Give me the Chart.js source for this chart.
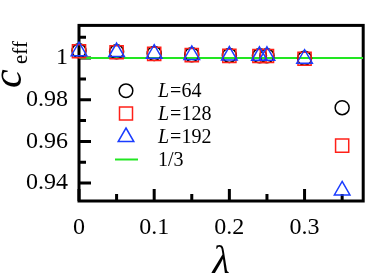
<!DOCTYPE html>
<html lang="en">
<head>
  <title>c_eff vs lambda</title>
  <script src="https://cdn.jsdelivr.net/npm/chart.js"></script>
  <style>
    body { margin: 0; background: #fff; }
  </style>
</head>
<body>
  <canvas id="myChart" width="374" height="280"></canvas>
  <script>
    // data
    const lambdas = [0, 0.05, 0.1, 0.15, 0.2, 0.24, 0.25, 0.3, 0.35];
    const cL64  = [1.0035, 1.0030, 1.0022, 1.0016, 1.0013, 1.0011, 1.0011, 0.9999, 0.9762];
    const cL128 = [1.0033, 1.0028, 1.0020, 1.0014, 1.0011, 1.0010, 1.0010, 0.9997, 0.9580];
    const cL192 = [1.0033, 1.0029, 1.0021, 1.0015, 1.0012, 1.0011, 1.0011, 0.9997, 0.9365];
    const refX = [0, 0.378];
    const refY = [1, 1];
    const seriesLabels = ['L=64', 'L=128', 'L=192', '1/3'];

    const xTicks = [0, 0.1, 0.2, 0.3];
    const xMinor = [0.05, 0.15, 0.25, 0.35];
    const yTicks = [0.94, 0.96, 0.98, 1];
    const yMinor = [0.95, 0.97, 0.99, 1.01];

    const black = '#000000', red = '#ff2018', blue = '#1a3cff', green = '#22e622';
    const serif = "'Liberation Serif', 'DejaVu Serif', serif";

    function pts(xs, ys) {
      return xs.map((x, i) => ({ x: x, y: ys[i] }));
    }

    // frame, inward ticks, legend and axis titles
    const decorations = {
      id: 'decorations',
      beforeDatasetsDraw(chart) {
        const ctx = chart.ctx;
        const a = chart.chartArea;
        const xs = chart.scales.x, ys = chart.scales.y;
        ctx.save();
        ctx.strokeStyle = '#000';
        ctx.lineWidth = 3;
        ctx.lineCap = 'butt';
        ctx.strokeRect(a.left, a.top, a.right - a.left, a.bottom - a.top);
        ctx.beginPath();
        xTicks.forEach(v => { const p = xs.getPixelForValue(v); ctx.moveTo(p, a.bottom); ctx.lineTo(p, a.bottom - 12); });
        xMinor.forEach(v => { const p = xs.getPixelForValue(v); ctx.moveTo(p, a.bottom); ctx.lineTo(p, a.bottom - 7); });
        yTicks.forEach(v => { const p = ys.getPixelForValue(v); ctx.moveTo(a.left, p); ctx.lineTo(a.left + 12, p); });
        yMinor.forEach(v => { const p = ys.getPixelForValue(v); ctx.moveTo(a.left, p); ctx.lineTo(a.left + 7, p); });
        ctx.stroke();
        ctx.restore();
      },
      afterDraw(chart) {
        const ctx = chart.ctx;
        ctx.save();
        ctx.lineWidth = 1.5;
        // legend
        const lx = 126, tx = 158;
        const rows = [90.7, 113.5, 136.5, 159.5];
        // circle
        ctx.strokeStyle = black;
        ctx.beginPath(); ctx.arc(lx, rows[0], 6.8, 0, Math.PI * 2); ctx.stroke();
        // square
        ctx.strokeStyle = red;
        ctx.strokeRect(lx - 6.5, rows[1] - 6.5, 13, 13);
        // triangle
        ctx.strokeStyle = blue;
        ctx.beginPath();
        ctx.moveTo(lx, rows[2] - 8.5);
        ctx.lineTo(lx + 7.8, rows[2] + 5);
        ctx.lineTo(lx - 7.8, rows[2] + 5);
        ctx.closePath(); ctx.stroke();
        // line
        ctx.strokeStyle = green;
        ctx.lineWidth = 2;
        ctx.beginPath(); ctx.moveTo(115, rows[3]); ctx.lineTo(138, rows[3]); ctx.stroke();

        ctx.fillStyle = '#000';
        ctx.textBaseline = 'middle';
        ctx.textAlign = 'left';
        seriesLabels.forEach((lab, i) => {
          let x = tx;
          let rest = lab;
          if (lab.startsWith('L')) {
            ctx.font = 'italic 20px ' + serif;
            ctx.fillText('L', x, rows[i] + 1);
            x += ctx.measureText('L').width + 1;
            rest = lab.slice(1);
          }
          ctx.font = '20px ' + serif;
          ctx.fillText(rest, x, rows[i] + 1);
        });

        // y title c_eff
        ctx.save();
        ctx.translate(21, 88);
        ctx.rotate(-Math.PI / 2);
        ctx.textBaseline = 'alphabetic';
        ctx.font = 'italic 42px ' + serif;
        ctx.fillText('c', 0, 0);
        ctx.font = '21px ' + serif;
        ctx.fillText('eff', 24, 6);
        ctx.restore();

        // x title lambda
        const a = chart.chartArea;
        ctx.textAlign = 'center';
        ctx.textBaseline = 'alphabetic';
        ctx.font = 'italic 40px ' + serif;
        ctx.fillText('\u03bb', (a.left + a.right) / 2, 273);
        ctx.restore();
      }
    };

    const ctx = document.getElementById('myChart').getContext('2d');
    new Chart(ctx, {
      type: 'scatter',
      data: {
        datasets: [{
          label: seriesLabels[0],
          data: pts(lambdas, cL64),
          pointStyle: 'circle',
          pointRadius: 7,
          borderColor: black,
          backgroundColor: 'rgba(0,0,0,0)',
          borderWidth: 1.5,
          clip: false,
          order: 3
        }, {
          label: seriesLabels[1],
          data: pts(lambdas, cL128),
          pointStyle: 'rect',
          pointRadius: 9.3,
          borderColor: red,
          backgroundColor: 'rgba(0,0,0,0)',
          borderWidth: 1.5,
          clip: false,
          order: 2
        }, {
          label: seriesLabels[2],
          data: pts(lambdas, cL192),
          pointStyle: 'triangle',
          pointRadius: 9,
          borderColor: blue,
          backgroundColor: 'rgba(0,0,0,0)',
          borderWidth: 1.5,
          clip: false,
          order: 1
        }, {
          type: 'line',
          label: seriesLabels[3],
          data: pts(refX, refY),
          borderColor: green,
          borderWidth: 2,
          pointRadius: 0,
          fill: false,
          order: 4
        }]
      },
      options: {
        responsive: false,
        animation: false,
        events: [],
        layout: { padding: { top: 16, right: 4, left: 0, bottom: 0 } },
        plugins: {
          legend: { display: false },
          tooltip: { enabled: false }
        },
        scales: {
          x: {
            type: 'linear',
            min: 0,
            max: 0.378,
            grid: { display: false, drawTicks: false },
            border: { display: false },
            afterBuildTicks: s => { s.ticks = xTicks.map(v => ({ value: v })); },
            afterFit: s => { s.height = 79; },
            ticks: {
              color: '#000',
              padding: 12,
              maxRotation: 0,
              font: { family: serif, size: 24 },
              callback: v => String(v)
            }
          },
          y: {
            min: 0.9314,
            max: 1.0157,
            grid: { display: false, drawTicks: false },
            border: { display: false },
            afterBuildTicks: s => { s.ticks = yTicks.map(v => ({ value: v })); },
            afterFit: s => { s.width = 79; },
            ticks: {
              color: '#000',
              padding: 11,
              font: { family: serif, size: 24 },
              callback: v => String(v)
            }
          }
        }
      },
      plugins: [decorations]
    });
  </script>
</body>
</html>
